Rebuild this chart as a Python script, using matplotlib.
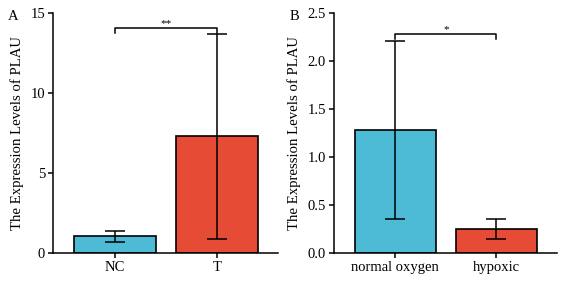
import matplotlib
matplotlib.use("Agg")
import matplotlib.pyplot as plt

plt.rcParams['font.family'] = ['Liberation Serif', 'DejaVu Serif']

# Panel A data
cats_a = ["NC", "T"]
means_a = [1.04, 7.28]
err_a = [0.33, 6.38]
yticks_a = [0, 5, 10, 15]
sig_a = "**"

# Panel B data
cats_b = ["normal oxygen", "hypoxic"]
means_b = [1.28, 0.25]
err_b = [0.93, 0.105]
yticks_b = [0.0, 0.5, 1.0, 1.5, 2.0, 2.5]
yticklabels_b = ["0.0", "0.5", "1.0", "1.5", "2.0", "2.5"]
sig_b = "*"

colors = ["#4DBBD5", "#E64B35"]
ylabel = "The Expression Levels of PLAU"

fig = plt.figure(figsize=(5.62, 2.81), dpi=100)
axA = fig.add_axes([0.0943, 0.0996, 0.4004, 0.855])
axB = fig.add_axes([0.594, 0.0996, 0.3966, 0.855])


def draw(ax, cats, means, errs, yticks, ylim, sig, sig_y, leg, letter, yticklabels=None):
    x = list(range(len(cats)))
    ax.bar(x, means, width=0.8, color=colors, edgecolor="black", linewidth=1.2, zorder=2)
    ax.errorbar(x, means, yerr=errs, fmt="none", ecolor="black", elinewidth=1.1,
                capsize=7.5, capthick=1.1, zorder=3)
    ax.set_xlim(-0.607, 1.595)
    ax.set_ylim(ylim)
    ax.set_yticks(yticks)
    if yticklabels is not None:
        ax.set_yticklabels(yticklabels)
    ax.set_xticks(x)
    ax.set_xticklabels(cats)
    for s in ["top", "right"]:
        ax.spines[s].set_visible(False)
    for s in ["left", "bottom"]:
        ax.spines[s].set_linewidth(1.1)
    ax.tick_params(axis="both", labelsize=10.5, width=1.1, length=3.6, direction="out", pad=2)
    ax.set_ylabel(ylabel, fontsize=10.6, labelpad=5)
    # significance bracket
    ax.plot([0, 0, 1, 1], [sig_y - leg, sig_y, sig_y, sig_y - leg], color="black",
            linewidth=1.1, clip_on=False)
    ax.text(0.5, sig_y, sig, ha="center", va="bottom", fontsize=8)
    ax.text(-0.2, 0.985, letter, transform=ax.transAxes, fontsize=10.5, va="center", ha="left")


draw(axA, cats_a, means_a, err_a, yticks_a, (0, 15), sig_a, 14.06, 0.3, "A")
draw(axB, cats_b, means_b, err_b, yticks_b, (0, 2.5), sig_b, 2.28, 0.05, "B", yticklabels_b)

fig.savefig("out.png", dpi=100)
